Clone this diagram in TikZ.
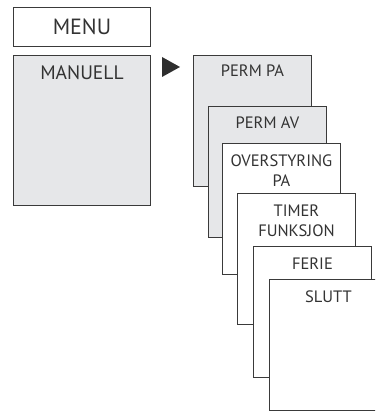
\documentclass[tikz,border=0pt]{standalone}
\usepackage{fontspec}
\setmainfont{PT Sans}
\usepackage{tikz}
\usetikzlibrary{positioning}
\definecolor{cardgray}{HTML}{E6E7E9}
\definecolor{edgegray}{HTML}{3A3A3A}
\definecolor{inkgray}{HTML}{333333}
\tikzstyle{card} = [rectangle, anchor=north west, inner sep=0pt, line width=0.9pt, draw=edgegray, minimum width=118pt, minimum height=131pt]
\tikzstyle{cardtext} = [anchor=north, inner sep=0pt, align=center, text=inkgray, font=\fontsize{16.5}{20}\selectfont]

\begin{document}
\begin{tikzpicture}[x=1pt, y=-1pt]
		\useasboundingbox (0,0) rectangle (375,411);
		\clip (0,0) rectangle (375,411);
		% menu header
		\node (menu) [card, fill=white, minimum width=137pt, minimum height=39pt] at (13,7) {};
		\node (menu-txt) [text=inkgray, inner sep=0pt, font=\fontsize{22}{26}\selectfont] at (menu.center) {MENU};
		\node (manuell) [card, fill=cardgray, minimum width=137pt, minimum height=150pt] at (13,55) {};
		\node (manuell-txt) [cardtext, font=\fontsize{19.5}{23}\selectfont, below=10pt of manuell.north] {MANUELL};
		% pointer
		\fill[edgegray!80!black] (162,57) -- (180,67) -- (162,77) -- cycle;
		% submenu cards
		\node (permpa) [card, fill=cardgray] at (193,55) {};
		\node (permpa-txt) [cardtext, below=10pt of permpa.north] {PERM PA};
		\node (permav) [card, fill=cardgray] at (208,106) {};
		\node (permav-txt) [cardtext, below=11pt of permav.north] {PERM AV};
		\node (overst) [card, fill=white] at (222,143) {};
		\node (overst-txt) [cardtext, below=12pt of overst.north] {OVERSTYRING\\PA};
		\node (timer) [card, fill=white] at (237,193) {};
		\node (timer-txt) [cardtext, below=12pt of timer.north] {TIMER\\FUNKSJON};
		\node (ferie) [card, fill=white] at (253,246) {};
		\node (ferie-txt) [cardtext, below=12pt of ferie.north] {FERIE};
		\node (slutt) [card, fill=white] at (269,279) {};
		\node (slutt-txt) [cardtext, below=12pt of slutt.north] {SLUTT};
		\end{tikzpicture}
\end{document}
